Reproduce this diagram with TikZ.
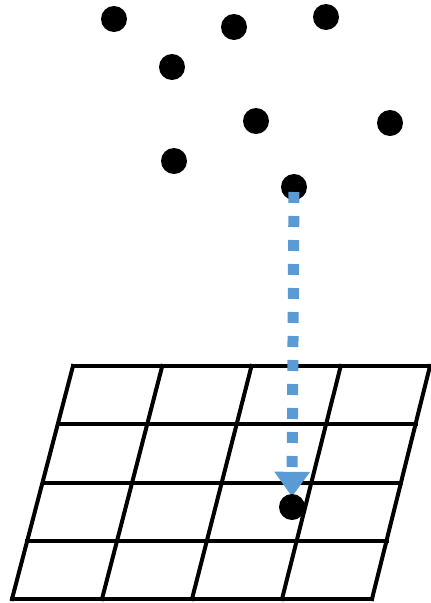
\documentclass[tikz,border=0pt]{standalone}
\usetikzlibrary{calc, arrows.meta}
\pgfdeclarelayer{front}
\pgfsetlayers{main,front}

\begin{document}
\begin{tikzpicture}[x=1pt, y=-1pt]
    % Define colours
    \definecolor{borderColour}{HTML}{000000}
    \definecolor{arrowColour}{HTML}{5B9BD5}

    % Macros for the point size and the line widths
    \def\pointSize{26pt} % Diameter of a point
    \def\gridWidth{4pt} % Width of the grid lines
    \def\cells{4} % Number of cells per side

    \tikzset{
      point/.style={circle, fill=borderColour, inner sep=0pt, minimum size=\pointSize},
      gridline/.style={draw=borderColour, line width=\gridWidth, line cap=rect},
      projection/.style={draw=arrowColour, line width=11pt, dash pattern=on 11pt off 13pt,
        -{Triangle[width=34pt, length=25pt]}, shorten <=5pt, shorten >=-3pt}
    }

    % Fix the page size
    \useasboundingbox (0,0) rectangle (431,603);

  % Corners of the slanted grid
  \coordinate (TL) at (73,366);
  \coordinate (TR) at (430,366);
  \coordinate (BL) at (12,599);
  \coordinate (BR) at (372,599);

  % Draw the grid
  \foreach \i in {0,...,\cells} {
    \draw[gridline] ($(TL)!\i/\cells!(BL)$) -- ($(TR)!\i/\cells!(BR)$); % rows
    \draw[gridline] ($(TL)!\i/\cells!(TR)$) -- ($(BL)!\i/\cells!(BR)$); % columns
  }

  % Draw the scattered points
  \foreach \name/\x/\y in {p1/114/19, p2/234/27, p3/326/17, p4/172/67,
                           p5/256/121, p6/390/123, p7/174/161, p8/294/187}
    \node[point] (\name) at (\x,\y) {};

  % The projected point on the grid
  \begin{pgfonlayer}{front}
    \node[point] (q) at (292,507) {};
  \end{pgfonlayer}

  % Draw the projection arrow
  \draw[projection] (p8.center) -- (q.north);

\end{tikzpicture}
\end{document}
